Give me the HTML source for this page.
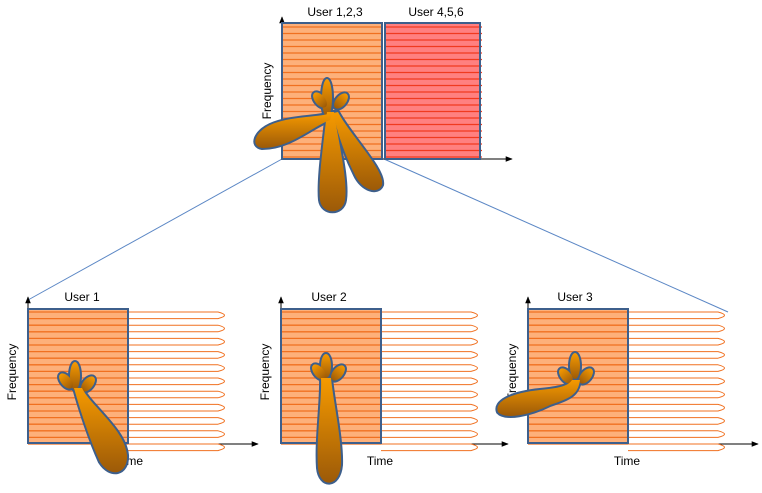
<!DOCTYPE html>
<html><head><meta charset="utf-8"><style>
html,body{margin:0;padding:0;background:#fff;}
svg{display:block;font-family:"Liberation Sans","DejaVu Sans",sans-serif;}
</style></head><body>
<svg id="s" width="762" height="493" viewBox="0 0 762 493" xmlns="http://www.w3.org/2000/svg">
<defs>
<linearGradient id="g" x1="0" y1="0" x2="0" y2="1"><stop offset="0" stop-color="#f69a00"/><stop offset="1" stop-color="#9c5a08"/></linearGradient>
<marker id="ar" viewBox="0 0 10 10" refX="9" refY="5" markerWidth="7" markerHeight="7" orient="auto"><path d="M0,1 L10,5 L0,9 z" fill="#000"/></marker>
</defs>
<line x1="282" y1="159" x2="28" y2="300" stroke="#5b87c5" stroke-width="1"/>
<line x1="384" y1="159" x2="728" y2="312" stroke="#5b87c5" stroke-width="1"/>
<line x1="282" y1="159" x2="282" y2="17" stroke="#000" marker-end="url(#ar)"/>
<line x1="282" y1="159" x2="512" y2="159" stroke="#000" marker-end="url(#ar)"/>
<g id="topg"></g>
<rect x="282" y="23" width="100" height="136" fill="none" stroke="#3d5f8c" stroke-width="2"/>
<rect x="385" y="23" width="95" height="136" fill="none" stroke="#3d5f8c" stroke-width="2"/>
<text x="335" y="16" font-size="12" text-anchor="middle">User 1,2,3</text>
<text x="436" y="16" font-size="12" text-anchor="middle">User 4,5,6</text>
<text x="370" y="181" font-size="12" text-anchor="middle">Time</text>
<text transform="translate(271,91) rotate(-90)" font-size="12" text-anchor="middle">Frequency</text>
<g id="botg"></g>
<text x="82" y="301" font-size="12" text-anchor="middle">User 1</text>
<text x="329" y="301" font-size="12" text-anchor="middle">User 2</text>
<text x="575" y="301" font-size="12" text-anchor="middle">User 3</text>
<text x="130" y="465" font-size="12" text-anchor="middle">Time</text>
<text x="380" y="465" font-size="12" text-anchor="middle">Time</text>
<text x="627" y="465" font-size="12" text-anchor="middle">Time</text>
<text transform="translate(16,372) rotate(-90)" font-size="12" text-anchor="middle">Frequency</text>
<text transform="translate(269,372) rotate(-90)" font-size="12" text-anchor="middle">Frequency</text>
<text transform="translate(516,372) rotate(-90)" font-size="12" text-anchor="middle">Frequency</text>
<g id="blobs"></g>
</svg>
<script>
(function(){
var NS="http://www.w3.org/2000/svg";
function el(p,t,a){var e=document.createElementNS(NS,t);for(var k in a)e.setAttribute(k,a[k]);p.appendChild(e);return e;}
var tg=document.getElementById('topg');
el(tg,'rect',{x:282,y:23,width:100,height:136,fill:'#fdb07a'});
el(tg,'rect',{x:385,y:23,width:95,height:136,fill:'#ff8080'});
for(var i=0;i<21;i++){var y=27+i*6.5;
 el(tg,'line',{x1:282,y1:y,x2:382,y2:y,stroke:'#f07020','stroke-width':1.3});
 el(tg,'line',{x1:385,y1:y,x2:482,y2:y,stroke:'#f03a20','stroke-width':1.2});}
var bg=document.getElementById('botg');
[[28,258],[281,508],[528,758]].forEach(function(p){var x=p[0];
 el(bg,'line',{x1:x,y1:444,x2:x,y2:297,stroke:'#000','marker-end':'url(#ar)'});
 el(bg,'line',{x1:x,y1:444,x2:p[1],y2:444,stroke:'#000','marker-end':'url(#ar)'});
 el(bg,'rect',{x:x,y:309,width:100,height:134,fill:'#fdb07a'});
 for(var i=0;i<21;i++){var y=312+i*6.6;
  el(bg,'line',{x1:x,y1:y,x2:x+100,y2:y,stroke:'#f07020','stroke-width':1.3});
  if(i%2==0){el(bg,'path',{d:'M'+(x+100)+','+y+' L'+(x+190)+','+y+' Q'+(x+203)+','+(y+3.3)+' '+(x+190)+','+(y+6.6)+' L'+(x+100)+','+(y+6.6),fill:'none',stroke:'#f07020','stroke-width':1});}
 }
 el(bg,'rect',{x:x,y:309,width:100,height:134,fill:'none',stroke:'#3d5f8c','stroke-width':2});
});
var B=document.getElementById('blobs');
function blob(shapes){
 var g=el(B,'g',{});
 shapes.forEach(function(s){var a=Object.assign({},s.a,{fill:'#3d5f8c',stroke:'#3d5f8c','stroke-width':4});el(g,s.t,a);});
 shapes.forEach(function(s){var a=Object.assign({},s.a,{fill:'url(#g)'});el(g,s.t,a);});
}
function E(cx,cy,rx,ry,r){return{t:'ellipse',a:{cx:cx,cy:cy,rx:rx,ry:ry,transform:'rotate('+(r||0)+' '+cx+' '+cy+')'}};}
function P(d){return{t:'path',a:{d:d}};}
blob([E(327,98,5,19),E(320,100,5,9,-40),E(341,101,5,9,40),
 P('M327,112 L334,112 C338,140 348,180 345,200 C343,215 322,215 320,200 C318,180 324,140 327,112 Z'),
 P('M333,113 L338,112 C350,135 385,170 382,185 C378,195 362,190 355,175 C345,155 338,135 333,113 Z'),
 P('M332,113 L330,120 C310,128 290,148 262,148 C250,146 255,132 270,125 C290,116 315,118 332,113 Z')]);
blob([E(75,376,5,14),E(66,381,5,9,-40),E(88,384,5,9,40),
 P('M74,388 L82,388 C90,405 125,430 127,455 C128,475 110,478 100,462 C90,440 80,410 74,388 Z')]);
blob([E(326,366,5,12),E(319,372,5,9,-40),E(338,373,5,9,40),
 P('M321,378 L331,378 C333,400 342,440 341,465 C339,488 320,488 318,468 C316,440 322,400 321,378 Z')]);
blob([E(575,366,5,13),E(566,376,5,9,-40),E(586,376,5,9,40),
 P('M572,380 L580,380 C578,395 570,398 550,405 C530,415 505,420 498,412 C494,402 510,393 540,390 C560,388 568,386 572,380 Z')]);
})();
</script>
</body></html>
